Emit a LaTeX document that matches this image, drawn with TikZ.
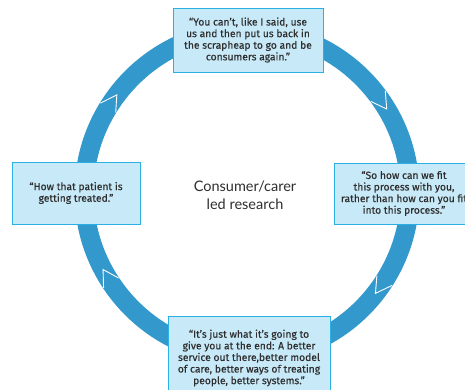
\documentclass[tikz,border=0pt]{standalone}
\usepackage{fontspec}
\newfontfamily\quotefont[FakeBold=0.35]{Fira Sans}
\newfontfamily\middlefont{Lato}
\definecolor{ringblue}{HTML}{3399CC}
\definecolor{quotefill}{HTML}{C7E9F8}
\definecolor{quoteline}{HTML}{2BB0E6}
\definecolor{quotetext}{HTML}{2E2E2E}
\tikzset{
    quote/.style={rectangle, draw=quoteline, fill=quotefill, line width=0.9pt,
        text=quotetext, align=center, inner sep=0pt,
        font=\quotefont\fontsize{10.3}{11.6}\selectfont},
    chevron/.style={draw=white, line width=0.9pt}
}

\begin{document}
\begin{tikzpicture}[x=1pt, y=1pt]
    \useasboundingbox (0,0) rectangle (465,-389);
    \clip (0,0) rectangle (465,-389);

    \coordinate (ctr) at (247,-193);
    \draw[ringblue, line width=19pt] (ctr) circle[radius=163];

    \draw[chevron] ([shift={(36.5:154)}]ctr) -- ([shift={(31:163)}]ctr) -- ([shift={(36.5:172)}]ctr);
    \draw[chevron] ([shift={(-32.5:154)}]ctr) -- ([shift={(-38:163)}]ctr) -- ([shift={(-32.5:172)}]ctr);
    \draw[chevron] ([shift={(213.5:154)}]ctr) -- ([shift={(208:163)}]ctr) -- ([shift={(213.5:172)}]ctr);
    \draw[chevron] ([shift={(148.5:154)}]ctr) -- ([shift={(143:163)}]ctr) -- ([shift={(148.5:172)}]ctr);

    \node (mid) [text=quotetext, align=center, font=\middlefont\fontsize{14.5}{18}\selectfont] at (245,-195) {Consumer/carer\\led research};

    \node (qtop) [quote, minimum width=150, minimum height=64] at (248,-40)
        {“You can’t, like I said, use\\us and then put us back in\\the scrapheap to go and be\\consumers again.”};
    \node (qright) [quote, minimum width=140, minimum height=61] at (404,-193.5)
        {“So how can we fit\\this process with you,\\rather than how can you fit\\into this process.”};
    \node (qleft) [quote, minimum width=128, minimum height=62] at (76,-193)
        {“How that patient is\\getting treated.”};
    \node (qbottom) [quote, minimum width=162, minimum height=84] at (249,-358)
        {“It’s just what it’s going to\\give you at the end: A better\\service out there,better model\\of care, better ways of treating\\people, better systems.”};
\end{tikzpicture}
\end{document}
